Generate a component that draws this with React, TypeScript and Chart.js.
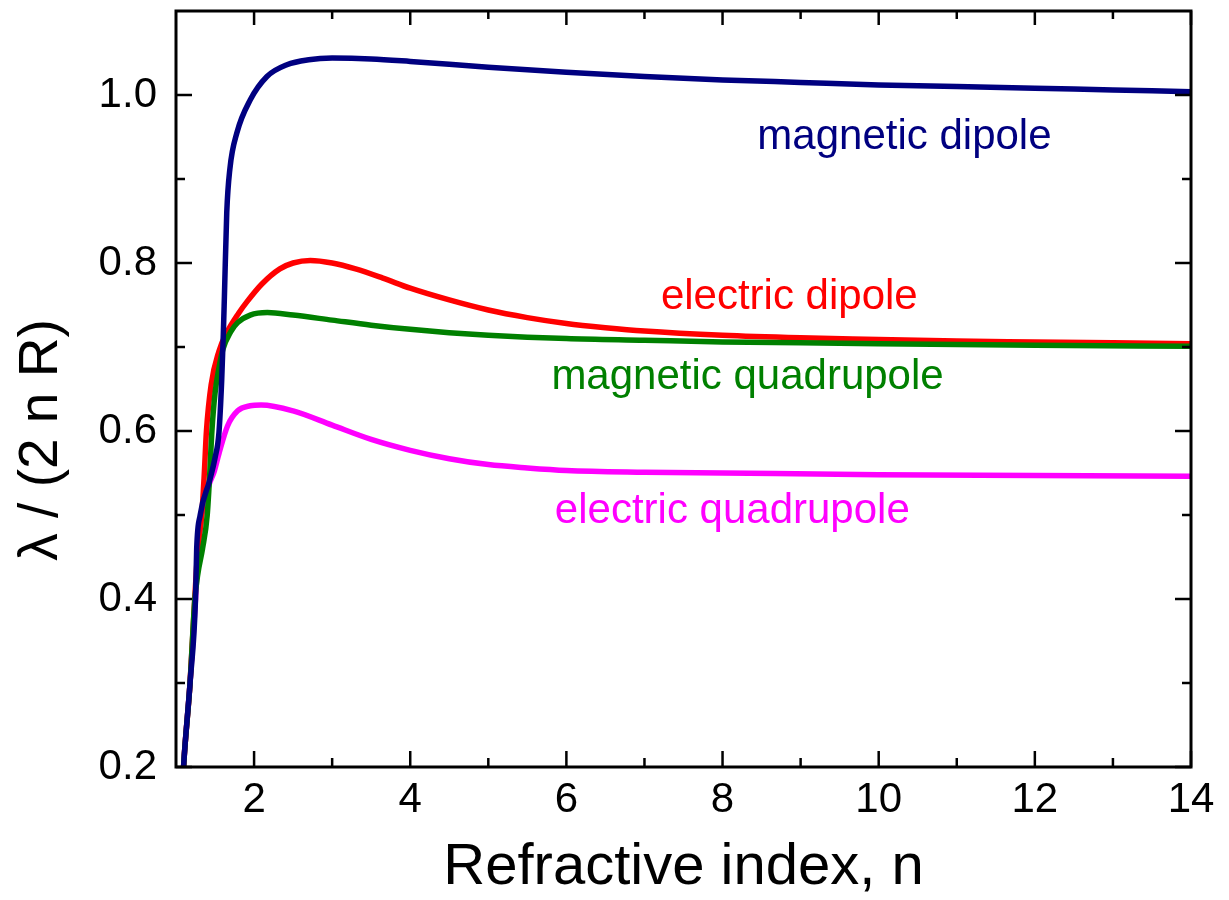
import React, { useEffect, useRef } from 'react';
import { Chart, registerables } from 'chart.js';

Chart.register(...registerables);

// ---- axis ranges & ticks ----
const X_MIN = 1;
const X_MAX = 14;
const Y_MIN = 0.2;
const Y_MAX = 1.1;
const X_MAJOR = [2, 4, 6, 8, 10, 12, 14];
const X_MINOR = [3, 5, 7, 9, 11, 13];
const Y_MAJOR = [0.2, 0.4, 0.6, 0.8, 1.0];
const Y_MINOR = [0.3, 0.5, 0.7, 0.9];

const X_TITLE = 'Refractive index, n';
const Y_TITLE = 'λ / (2 n R)';

// ---- magnetic dipole ----
const MD_N = [1.08, 1.1, 1.18, 1.25, 1.265, 1.31, 1.43, 1.5, 1.55, 1.585, 1.606, 1.62, 1.65, 1.69, 1.78, 1.95, 2.165, 2.42, 2.7, 3.0, 3.5, 4, 5, 6, 7, 8, 9, 10, 11, 12, 13, 14];
const MD_V = [0.17, 0.205, 0.3, 0.4, 0.46, 0.5, 0.541, 0.568, 0.598, 0.66, 0.715, 0.76, 0.86, 0.912, 0.955, 0.994, 1.022, 1.036, 1.042, 1.044, 1.043, 1.04, 1.033, 1.027, 1.022, 1.018, 1.015, 1.012, 1.01, 1.008, 1.006, 1.004];

// ---- electric dipole ----
const ED_N = [1.08, 1.1, 1.18, 1.24, 1.28, 1.33, 1.36, 1.39, 1.45, 1.55, 1.65, 1.8, 1.91, 2.1, 2.33, 2.5, 2.72, 3.0, 3.3, 3.65, 4.0, 4.5, 5.0, 5.5, 6, 6.5, 7, 8, 9, 10, 11, 12, 13, 14];
const ED_V = [0.17, 0.205, 0.3, 0.4, 0.46, 0.5, 0.545, 0.6, 0.655, 0.695, 0.717, 0.74, 0.754, 0.775, 0.793, 0.8, 0.803, 0.8, 0.793, 0.782, 0.77, 0.756, 0.744, 0.735, 0.728, 0.723, 0.719, 0.714, 0.711, 0.709, 0.707, 0.706, 0.705, 0.704];

// ---- magnetic quadrupole ----
const MQ_N = [1.08, 1.1, 1.18, 1.24, 1.28, 1.34, 1.4, 1.43, 1.46, 1.5, 1.55, 1.6, 1.7, 1.79, 1.95, 2.17, 2.5, 3.0, 3.5, 4.0, 4.5, 5, 6, 7, 8, 9, 10, 12, 14];
const MQ_V = [0.17, 0.205, 0.3, 0.398, 0.43, 0.46, 0.5, 0.545, 0.6, 0.645, 0.675, 0.697, 0.718, 0.729, 0.738, 0.741, 0.738, 0.732, 0.726, 0.721, 0.717, 0.714, 0.71, 0.708, 0.706, 0.705, 0.704, 0.702, 0.701];

// ---- electric quadrupole ----
const EQ_N = [1.08, 1.1, 1.18, 1.25, 1.28, 1.33, 1.42, 1.49, 1.55, 1.66, 1.79, 1.95, 2.09, 2.5, 3.0, 3.5, 4.0, 4.5, 5.0, 5.5, 6, 7, 8, 10, 12, 14];
const EQ_V = [0.17, 0.205, 0.3, 0.4, 0.45, 0.5, 0.535, 0.552, 0.573, 0.606, 0.624, 0.63, 0.631, 0.624, 0.607, 0.59, 0.577, 0.567, 0.56, 0.556, 0.553, 0.551, 0.55, 0.548, 0.547, 0.546];

const SERIES_NAMES = ['magnetic dipole', 'electric dipole', 'magnetic quadrupole', 'electric quadrupole'];
const SERIES_COLORS = ['#000080', '#ff0000', '#008000', '#ff00ff'];

// label anchors (data coordinates, text baseline centre)
const LABEL_N = [10.33, 8.855, 8.32, 8.125];
const LABEL_V = [0.936, 0.745, 0.65, 0.49];

const FONT = '"Liberation Sans", Arial, Helvetica, sans-serif';

const zip = (xs: number[], ys: number[]) => xs.map((x, i) => ({ x, y: ys[i] }));

const framePlugin = {
  id: 'frameTicks',
  afterDatasetsDraw(chart: any) {
    const { ctx, chartArea: a, scales } = chart;
    const sx = scales.x;
    const sy = scales.y;
    ctx.save();
    ctx.strokeStyle = '#000';
    ctx.lineCap = 'butt';
    ctx.lineWidth = 2.5;
    const seg = (x1: number, y1: number, x2: number, y2: number) => {
      ctx.beginPath();
      ctx.moveTo(x1, y1);
      ctx.lineTo(x2, y2);
      ctx.stroke();
    };
    const MAJ = 16;
    const MIN = 9;
    X_MAJOR.forEach((v) => {
      const p = sx.getPixelForValue(v);
      seg(p, a.bottom, p, a.bottom - MAJ);
      seg(p, a.top, p, a.top + MAJ - 2);
    });
    X_MINOR.forEach((v) => {
      const p = sx.getPixelForValue(v);
      seg(p, a.bottom, p, a.bottom - MIN);
      seg(p, a.top, p, a.top + MIN - 1);
    });
    Y_MAJOR.forEach((v) => {
      const p = sy.getPixelForValue(v);
      seg(a.left, p, a.left + MAJ, p);
      seg(a.right, p, a.right - MAJ, p);
    });
    Y_MINOR.forEach((v) => {
      const p = sy.getPixelForValue(v);
      seg(a.left, p, a.left + MIN, p);
      seg(a.right, p, a.right - MIN, p);
    });
    ctx.lineWidth = 3;
    ctx.strokeRect(a.left, a.top, a.right - a.left, a.bottom - a.top);
    ctx.restore();
  },
  afterDraw(chart: any) {
    const { ctx, chartArea: a, scales } = chart;
    ctx.save();
    // curve labels
    ctx.font = `42px ${FONT}`;
    ctx.textAlign = 'center';
    ctx.textBaseline = 'alphabetic';
    SERIES_NAMES.forEach((name, i) => {
      ctx.fillStyle = SERIES_COLORS[i];
      ctx.fillText(name, scales.x.getPixelForValue(LABEL_N[i]), scales.y.getPixelForValue(LABEL_V[i]));
    });
    // y axis title
    ctx.fillStyle = '#000';
    ctx.font = `55px ${FONT}`;
    ctx.translate(a.left - 119, (a.top + a.bottom) / 2 + 51);
    ctx.rotate(-Math.PI / 2);
    ctx.textAlign = 'center';
    ctx.textBaseline = 'alphabetic';
    ctx.fillText(Y_TITLE, 0, 0);
    ctx.restore();
  },
};

export default function App() {
  const ref = useRef<HTMLCanvasElement | null>(null);

  useEffect(() => {
    if (!ref.current) return;
    const seriesN = [MD_N, ED_N, MQ_N, EQ_N];
    const seriesV = [MD_V, ED_V, MQ_V, EQ_V];
    const chart = new Chart(ref.current, {
      type: 'line',
      data: {
        datasets: SERIES_NAMES.map((name, i) => ({
          label: name,
          data: zip(seriesN[i], seriesV[i]),
          borderColor: SERIES_COLORS[i],
          backgroundColor: SERIES_COLORS[i],
          borderWidth: 5.5,
          pointRadius: 0,
          fill: false,
          cubicInterpolationMode: 'monotone' as const,
          clip: 0,
          order: i === 0 ? 0 : i === 2 ? 1 : i === 1 ? 2 : 3,
        })),
      },
      options: {
        animation: false,
        responsive: true,
        maintainAspectRatio: false,
        layout: { padding: { top: 11, right: 38, left: 0, bottom: 0 } },
        plugins: { legend: { display: false }, tooltip: { enabled: false } },
        scales: {
          x: {
            type: 'linear',
            min: X_MIN,
            max: X_MAX,
            grid: { display: false, drawTicks: false },
            border: { display: false },
            ticks: {
              color: '#000',
              font: { family: FONT, size: 42 },
              padding: 8,
              maxRotation: 0,
              autoSkip: false,
              callback: (v: any) => String(v),
            },
            afterBuildTicks: (s: any) => {
              s.ticks = X_MAJOR.map((value) => ({ value }));
            },
            afterFit: (s: any) => {
              s.height = 133;
              s.paddingLeft = 0;
              s.paddingRight = 0;
            },
            title: {
              display: true,
              text: X_TITLE,
              color: '#000',
              font: { family: FONT, size: 58, lineHeight: 1 },
              padding: { top: 0, bottom: 3 },
            },
          },
          y: {
            type: 'linear',
            min: Y_MIN,
            max: Y_MAX,
            grid: { display: false, drawTicks: false },
            border: { display: false },
            ticks: {
              color: '#000',
              font: { family: FONT, size: 42 },
              padding: 19,
              autoSkip: false,
              callback: (v: any) => Number(v).toFixed(1),
            },
            afterBuildTicks: (s: any) => {
              s.ticks = Y_MAJOR.map((value) => ({ value }));
            },
            afterFit: (s: any) => {
              s.width = 176;
              s.paddingTop = 0;
              s.paddingBottom = 0;
            },
          },
        },
      },
      plugins: [framePlugin],
    } as any);
    return () => chart.destroy();
  }, []);

  return (
    <div style={{ position: 'fixed', left: 0, top: 0, width: 1229, height: 900, background: '#fff' }}>
      <canvas ref={ref} />
    </div>
  );
}
